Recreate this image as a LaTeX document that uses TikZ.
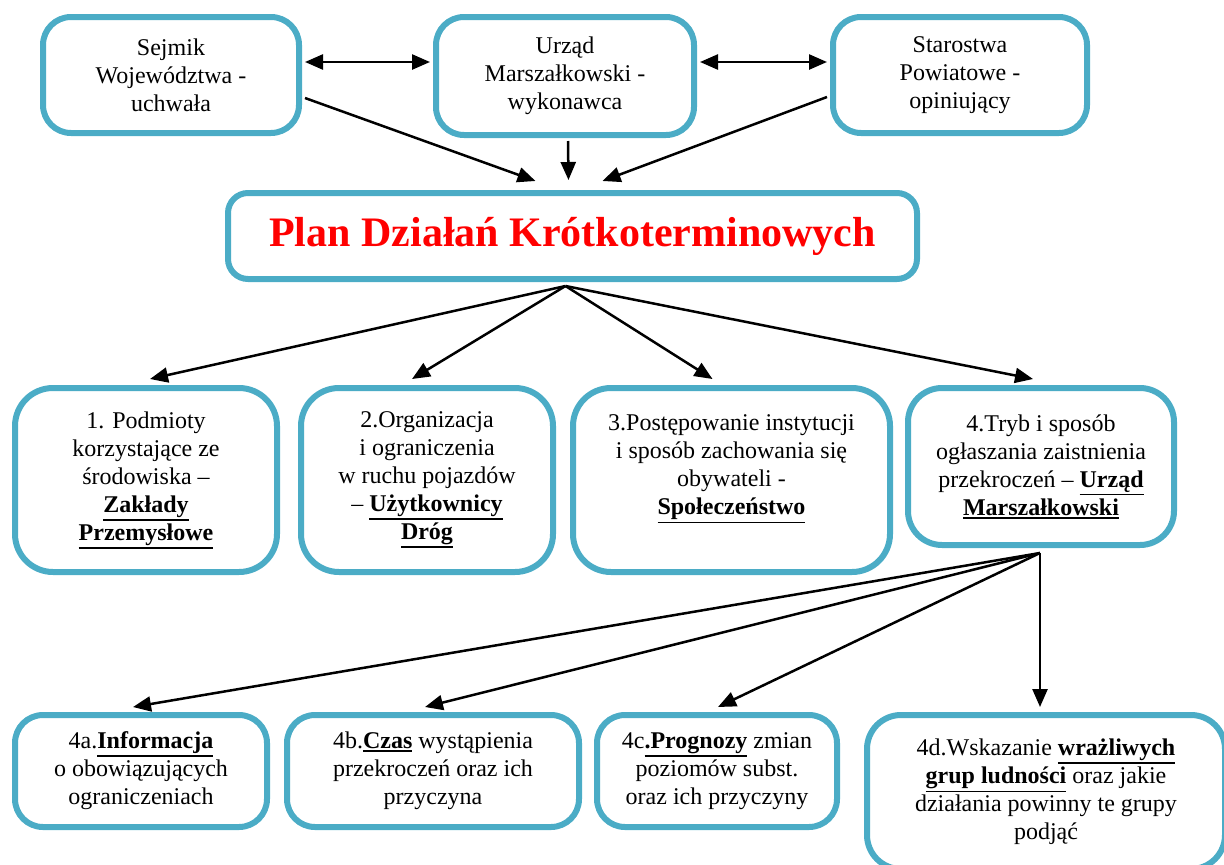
\documentclass[tikz,border=0pt]{standalone}
\usepackage{fontspec}
\setmainfont{Liberation Serif}
\usetikzlibrary{arrows.meta,calc}
\definecolor{ramka}{RGB}{75,172,198}
\newcommand{\podkr}[1]{\leavevmode\vtop{\hbox{\textbf{#1}}\kern1.5pt\hrule height 1.8pt}}
\tikzset{
  blok/.style={draw=ramka,line width=6pt,rounded corners=28pt,fill=white,
    align=center,inner sep=0pt,font=\fontsize{24}{28}\selectfont},
  strz/.style={line width=2.5pt,-{Triangle[length=18pt,width=15pt]}},
  dwustrz/.style={line width=2.5pt,
    {Triangle[length=18pt,width=15pt]}-{Triangle[length=18pt,width=15pt]}},
}
\begin{document}
\begin{tikzpicture}[x=1pt,y=-1pt]
\useasboundingbox (0,0) rectangle (1224,865);
\clip (0,0) rectangle (1224,865);
% gora
\node[blok,minimum width=256pt,minimum height=116pt] (sejmik) at (171,75) {Sejmik\\Województwa -\\uchwała};
\node[blok,minimum width=258pt,minimum height=118pt] (urzad) at (565,76) {Urząd\\Marszałkowski -\\wykonawca};
\node[blok,minimum width=254pt,minimum height=116pt] (starostwa) at (960,75) {Starostwa\\Powiatowe -\\opiniujący};
\node[blok,rounded corners=20pt,minimum width=689pt,minimum height=86pt,
  font=\fontsize{42}{48}\selectfont\bfseries,text=red] (plan) at (572.5,236) {Plan Działań Krótkoterminowych};
% srodek
\node[blok,rounded corners=38pt,minimum width=262pt,minimum height=184pt] (pdk1) at (146,480)
  {1. Podmioty\\korzystające ze\\środowiska –\\\podkr{Zakłady}\\\podkr{Przemysłowe}};
\node[blok,rounded corners=38pt,minimum width=252pt,minimum height=184pt] (pdk2) at (427,480)
  {2.Organizacja\\i ograniczenia\\w ruchu pojazdów\\– \podkr{Użytkownicy}\\\podkr{Dróg}};
\node[blok,rounded corners=38pt,minimum width=317pt,minimum height=184pt,text depth=30pt] (pdk3) at (731.5,480)
  {3.Postępowanie instytucji\\i sposób zachowania się\\obywateli -\\\podkr{Społeczeństwo}};
\node[blok,rounded corners=34pt,minimum width=266pt,minimum height=157pt] (pdk4) at (1041,466.5)
  {4.Tryb i sposób\\ogłaszania zaistnienia\\przekroczeń – \podkr{Urząd}\\\podkr{Marszałkowski}};
% dol
\node[blok,minimum width=252pt,minimum height=112pt] (p4a) at (141,771)
  {4a.\podkr{Informacja}\\o obowiązujących\\ograniczeniach};
\node[blok,minimum width=292pt,minimum height=112pt] (p4b) at (433,771)
  {4b.\podkr{Czas} wystąpienia\\przekroczeń oraz ich\\przyczyna};
\node[blok,minimum width=240pt,minimum height=112pt] (p4c) at (717,771)
  {4c\podkr{.Prognozy} zmian\\poziomów subst.\\oraz ich przyczyny};
\node[blok,rounded corners=34pt,minimum width=358pt,minimum height=154pt] (p4d) at (1046,792)
  {4d.Wskazanie \podkr{wrażliwych}\\\podkr{grup ludności} oraz jakie\\działania powinny te grupy\\podjąć};
%
\draw[dwustrz] ($(sejmik.east)+(3,-13)$) -- ($(urzad.west)+(-3,-14)$);
\draw[dwustrz] ($(urzad.east)+(3,-14)$) -- ($(starostwa.west)+(-3,-13)$);
\draw[strz] ($(sejmik.east)+(3,23)$) -- ($(plan.north)+(-37,-9)$);
\draw[strz] ($(urzad.south)+(3,3)$) -- ($(plan.north)+(-4,-10)$);
\draw[strz] ($(starostwa.west)+(-3,22)$) -- ($(plan.north)+(30,-9)$);
%
\coordinate (rozw1) at ($(plan.south)+(-7,4)$);
\foreach \cel/\dx in {pdk1/4,pdk2/-15,pdk3/-19,pdk4/-8}
  \draw[strz] (rozw1) -- ($(\cel.north)+(\dx,-6)$);
%
\coordinate (rozw2) at ($(pdk4.south)+(-1,5)$);
\foreach \cel/\dx in {p4a/-8,p4b/-8,p4c/1}
  \draw[strz] (rozw2) -- ($(\cel.north)+(\dx,-5)$);
\draw[strz,shorten >=5pt] (rozw2) -- (rozw2 |- p4d.north);
\end{tikzpicture}
\end{document}
